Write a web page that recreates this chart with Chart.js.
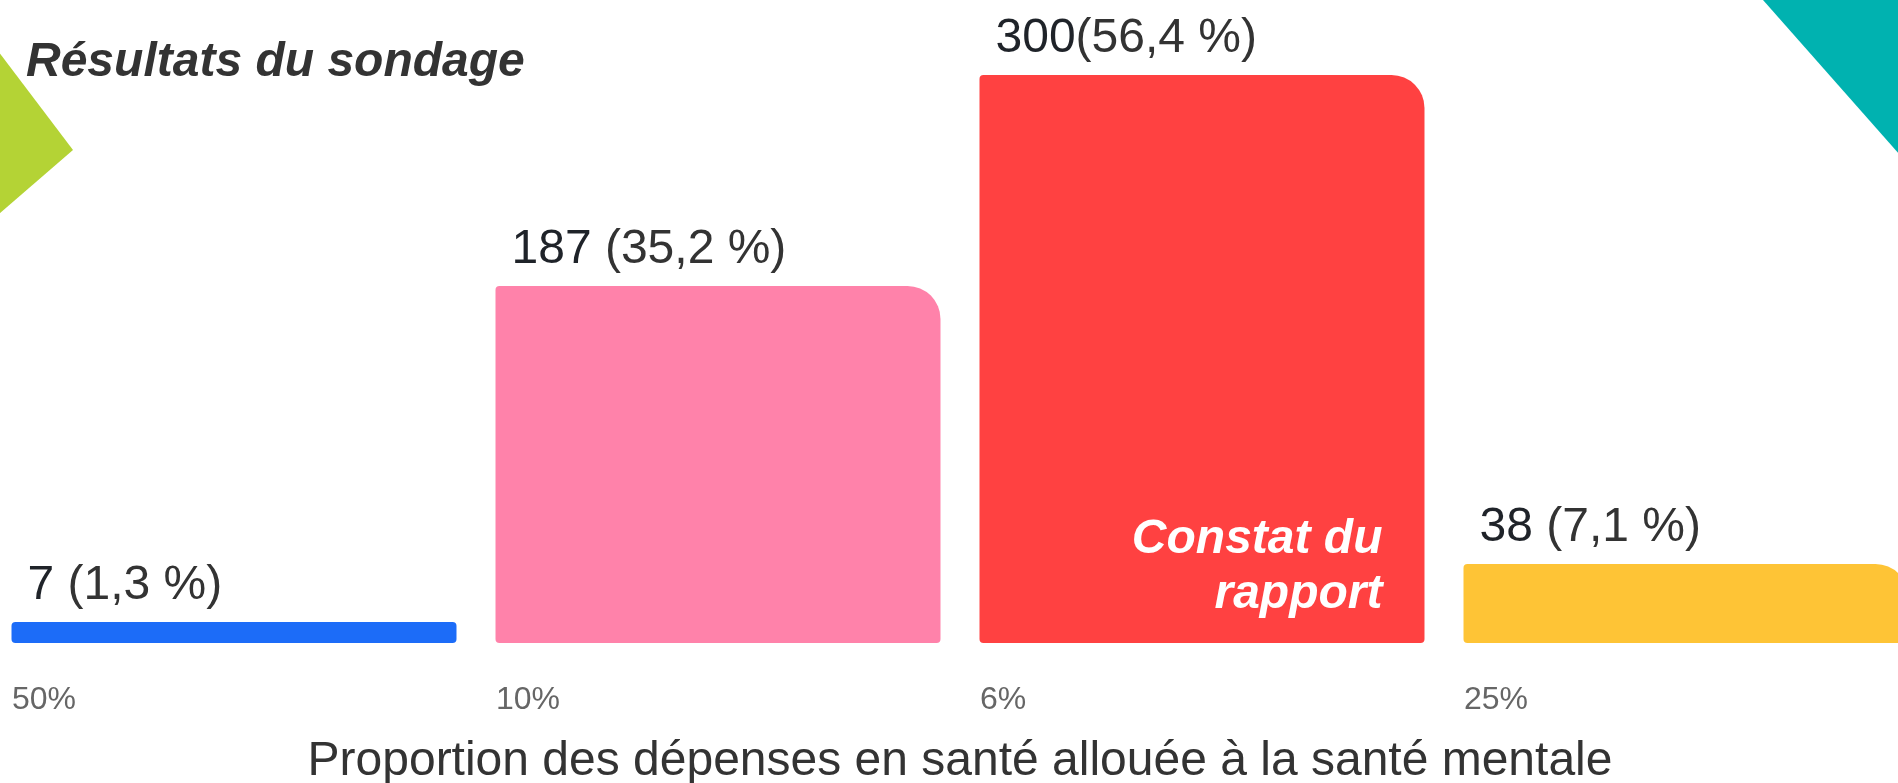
<!DOCTYPE html>
<html lang="fr">
<head>
<meta charset="utf-8">
<script src="https://cdn.jsdelivr.net/npm/chart.js@4.4.1/dist/chart.umd.min.js"></script>
<style>
html,body{margin:0;padding:0;background:#fff;overflow:hidden;width:1898px;height:783px;position:relative;}
#c{position:absolute;left:-8px;top:0;}
</style>
</head>
<body>
<canvas id="c" width="1936" height="783"></canvas>
<script>
// ---- data ----
const categories = ['50%', '10%', '6%', '25%'];
const responses = [7, 187, 300, 38];
const separators = [' ', ' ', '', ' '];
const barColors = ['#1c6cf8', '#ff82aa', '#ff4141', '#fec436'];
const chartTitle = 'Résultats du sondage';
const axisTitle = 'Proportion des dépenses en santé allouée à la santé mentale';
const noteLines = ['Constat du', 'rapport'];
const noteIndex = 2;
const yMin = -4.3;
const yMax = 300;

const total = responses.reduce((a, b) => a + b, 0);
const pct = i => (responses[i] / total * 100).toFixed(1).replace('.', ',');

const FONT = '"Liberation Sans", Arial, Helvetica, sans-serif';
const OFFSET = 8; // canvas is shifted 8px left of the page

const decor = {
  id: 'decor',
  beforeDraw(chart) {
    const ctx = chart.ctx;
    ctx.save();
    ctx.translate(OFFSET, 0);
    ctx.fillStyle = '#b4d335';
    ctx.beginPath();
    ctx.moveTo(-8, 43); ctx.lineTo(73, 150); ctx.lineTo(-8, 220);
    ctx.closePath(); ctx.fill();
    ctx.fillStyle = '#00b2b0';
    ctx.beginPath();
    ctx.moveTo(1763, 0); ctx.lineTo(1930, 0); ctx.lineTo(1930, 189);
    ctx.closePath(); ctx.fill();
    ctx.font = 'italic bold 48px ' + FONT;
    ctx.fillStyle = '#333333';
    ctx.textAlign = 'left';
    ctx.textBaseline = 'alphabetic';
    ctx.fillText(chartTitle, 26, 76);
    ctx.restore();
  },
  afterDatasetsDraw(chart) {
    const ctx = chart.ctx;
    const meta = chart.getDatasetMeta(0);
    ctx.save();
    ctx.textAlign = 'left';
    ctx.textBaseline = 'alphabetic';
    meta.data.forEach((bar, i) => {
      const left = bar.x - bar.width / 2 + 16;
      const y = bar.y - 23;
      ctx.font = '48px ' + FONT;
      const num = String(responses[i]);
      ctx.fillStyle = '#1f2329';
      ctx.fillText(num, left, y);
      const w = ctx.measureText(num).width;
      ctx.fillStyle = '#333333';
      ctx.fillText(separators[i] + '(' + pct(i) + ' %)', left + w, y);
    });
    const nb = meta.data[noteIndex];
    const right = nb.x + nb.width / 2 - 42;
    ctx.font = 'italic bold 48px ' + FONT;
    ctx.fillStyle = '#ffffff';
    ctx.textAlign = 'right';
    ctx.fillText(noteLines[0], right, nb.base - 90);
    ctx.fillText(noteLines[1], right, nb.base - 35);
    ctx.restore();
  }
};

new Chart(document.getElementById('c'), {
  type: 'bar',
  data: {
    labels: categories,
    datasets: [{
      data: responses,
      backgroundColor: barColors,
      base: yMin,
      borderSkipped: false,
      borderRadius: ctx => ctx.dataIndex === 0 ? 4 : {topLeft: 4, topRight: 33, bottomLeft: 4, bottomRight: 4},
      barPercentage: 0.9194,
      categoryPercentage: 1
    }]
  },
  options: {
    responsive: false,
    animation: false,
    devicePixelRatio: 1,
    layout: {padding: {top: 75, left: 0, right: 0, bottom: 0}},
    plugins: {legend: {display: false}, tooltip: {enabled: false}, title: {display: false}},
    scales: {
      x: {
        type: 'category',
        offset: true,
        grid: {display: false, drawTicks: false},
        border: {display: false},
        ticks: {
          align: 'start', labelOffset: -222, padding: 38, color: '#666666',
          font: {size: 32, family: FONT}, maxRotation: 0, autoSkip: false
        },
        title: {
          display: true, text: axisTitle, color: '#333333',
          font: {size: 48, family: FONT, lineHeight: 0.9}, padding: 0
        },
        afterFit(scale) { scale.height = 140; }
      },
      y: {display: false, min: yMin, max: yMax}
    }
  },
  plugins: [decor]
});
</script>
</body>
</html>
